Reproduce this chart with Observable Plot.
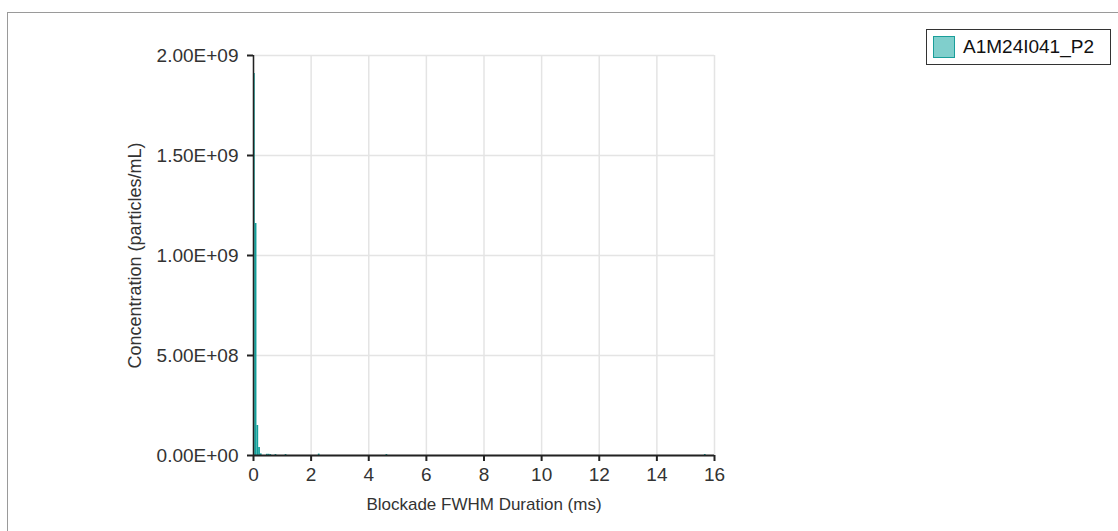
<!DOCTYPE html>
<html>
<head>
<meta charset="utf-8">
<script src="https://cdn.jsdelivr.net/npm/d3@7"></script>
<script src="https://cdn.jsdelivr.net/npm/@observablehq/plot@0.6"></script>
<style>
  html, body { margin: 0; padding: 0; background: #fff; }
  #wrap { position: relative; width: 1118px; height: 531px; overflow: hidden; font-family: "Liberation Sans", Arial, sans-serif; }
  #frame { position: absolute; left: 7px; top: 12px; width: 1120px; height: 540px; border-left: 1px solid #9a9a9a; border-top: 1px solid #9a9a9a; box-sizing: border-box; }
  #legend { position: absolute; left: 926px; top: 29px; width: 185px; height: 36px; border: 1px solid #333; box-sizing: border-box; display: flex; align-items: center; background: #fff; }
  #legend .sw { width: 22px; height: 22px; margin-left: 6px; background: #80cfcc; border: 1px solid #1a9e9a; box-sizing: border-box; }
  #legend .lb { margin-left: 8px; font-size: 19px; color: #111; }
  #chart { position: absolute; left: 0; top: 0; }
</style>
</head>
<body>
<div id="wrap">
  <div id="frame"></div>
  <div id="chart"></div>
  <div id="legend"><div class="sw"></div><div class="lb">A1M24I041_P2</div></div>
</div>
<script>
const seriesName = "A1M24I041_P2";
const binWidth = 0.06; // ms
const binStarts = [0.00, 0.06, 0.12, 0.18, 0.24, 0.45, 0.51, 0.57, 0.75, 1.10, 2.25, 4.60, 15.65];
const concentrations = [1.91e9, 1.16e9, 1.5e8, 4.0e7, 8e6, 6e6, 6e6, 5e6, 5e6, 5e6, 7e6, 5e6, 5e6];
const xTicks = [0, 2, 4, 6, 8, 10, 12, 14, 16];
const yTicks = [0, 5e8, 1e9, 1.5e9, 2e9];
const xTitle = "Blockade FWHM Duration (ms)";
const yTitle = "Concentration (particles/mL)";

const data = binStarts.map((s, i) => ({x1: s, x2: s + binWidth, y: concentrations[i], series: seriesName}));

const fmt = d => {
  if (d === 0) return "0.00E+00";
  const [m, e] = d.toExponential(2).split("e");
  const sign = e[0] === "-" ? "-" : "+";
  const ex = e.replace(/[+-]/, "").padStart(2, "0");
  return m + "E" + sign + ex;
};

const chart = Plot.plot({
  width: 1118,
  height: 531,
  marginLeft: 253,
  marginRight: 404,
  marginTop: 55,
  marginBottom: 76,
  style: { fontFamily: "'Liberation Sans', Arial, sans-serif", fontSize: "19px", color: "#333", background: "transparent" },
  x: { domain: [0, 16], ticks: xTicks },
  y: { domain: [0, 2e9], ticks: yTicks },
  marks: [
    Plot.gridX(xTicks, { stroke: "#e4e4e4", strokeOpacity: 1, strokeWidth: 1.5 }),
    Plot.gridY(yTicks, { stroke: "#e4e4e4", strokeOpacity: 1, strokeWidth: 1.5 }),
    Plot.rectY(data, { x1: "x1", x2: "x2", y: "y", fill: "#13a09b", insetLeft: 0, insetRight: 0 }),
    Plot.ruleX([0], { stroke: "#222", strokeWidth: 1.5 }),
    Plot.ruleY([0], { stroke: "#222", strokeWidth: 2 }),
    Plot.axisY(yTicks, { tickFormat: fmt, tickSize: 6, tickPadding: 9, stroke: "#222", strokeWidth: 2, fontSize: 19, fill: "#333", label: null }),
    Plot.axisX(xTicks, { tickFormat: d => String(d), tickSize: 6, tickPadding: 6, stroke: "#222", strokeWidth: 2, fontSize: 19, fill: "#333", label: null }),
    Plot.text([yTitle], { frameAnchor: "left", dx: -118, rotate: -90, textAnchor: "middle", text: d => d, fontSize: 18, fill: "#333" }),
    Plot.text([xTitle], { frameAnchor: "bottom", dy: 54, x: 8, text: d => d, fontSize: 17, fill: "#333" })
  ]
});
document.getElementById("chart").appendChild(chart);
</script>
</body>
</html>
